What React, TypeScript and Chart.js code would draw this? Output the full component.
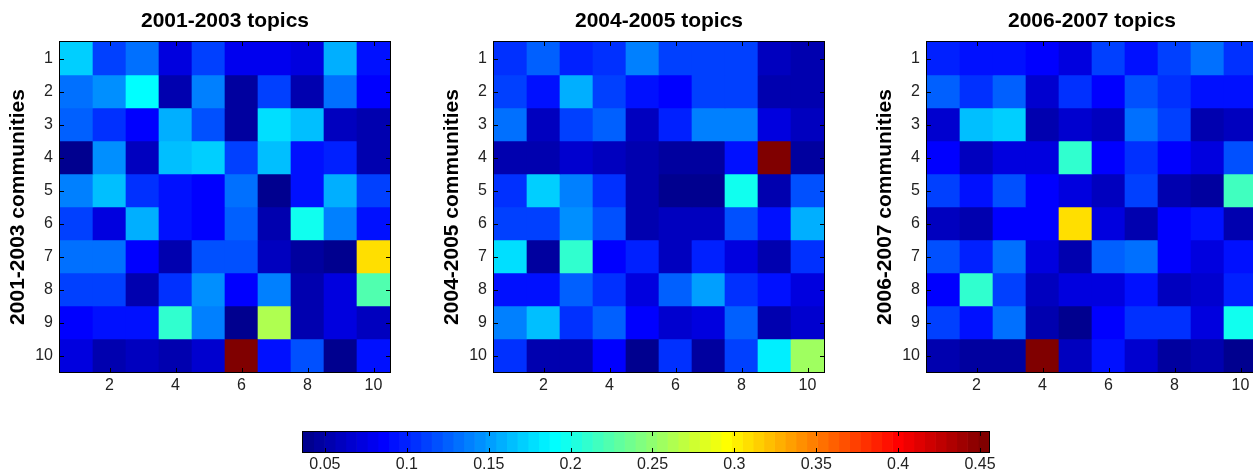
import React, { useEffect, useRef } from 'react';
import { Chart, registerables } from 'chart.js';

Chart.register(...registerables);

const FONT = "'Liberation Sans', Arial, Helvetica, sans-serif";

// ---- data ----
const COL_LABELS = ['1', '2', '3', '4', '5', '6', '7', '8', '9', '10'];
const ROWS = [1, 2, 3, 4, 5, 6, 7, 8, 9, 10];
const X_TICKS = [2, 4, 6, 8, 10];
const Y_TICKS = [1, 2, 3, 4, 5, 6, 7, 8, 9, 10];

const TITLES = ['2001-2003 topics', '2004-2005 topics', '2006-2007 topics'];
const Y_TITLES = ['2001-2003 communities', '2004-2005 communities', '2006-2007 communities'];

const VALUES_2001_2003 = [
  [0.17, 0.115, 0.13, 0.07, 0.115, 0.08, 0.08, 0.075, 0.155, 0.09],
  [0.13, 0.143, 0.19, 0.055, 0.135, 0.045, 0.11, 0.055, 0.13, 0.083],
  [0.125, 0.105, 0.087, 0.16, 0.12, 0.045, 0.18, 0.163, 0.06, 0.055],
  [0.038, 0.143, 0.06, 0.162, 0.173, 0.11, 0.165, 0.095, 0.1, 0.055],
  [0.135, 0.167, 0.105, 0.09, 0.087, 0.13, 0.04, 0.095, 0.155, 0.115],
  [0.115, 0.07, 0.155, 0.09, 0.087, 0.123, 0.05, 0.195, 0.135, 0.09],
  [0.13, 0.13, 0.083, 0.05, 0.12, 0.12, 0.06, 0.045, 0.04, 0.31],
  [0.115, 0.11, 0.05, 0.105, 0.143, 0.087, 0.135, 0.055, 0.07, 0.22],
  [0.087, 0.095, 0.095, 0.21, 0.135, 0.04, 0.265, 0.05, 0.075, 0.06],
  [0.075, 0.055, 0.06, 0.055, 0.065, 0.455, 0.09, 0.12, 0.04, 0.095],
];

const VALUES_2004_2005 = [
  [0.105, 0.125, 0.1, 0.105, 0.135, 0.11, 0.11, 0.11, 0.06, 0.055],
  [0.115, 0.095, 0.155, 0.115, 0.09, 0.087, 0.115, 0.115, 0.055, 0.055],
  [0.13, 0.06, 0.115, 0.125, 0.06, 0.1, 0.135, 0.135, 0.075, 0.06],
  [0.05, 0.055, 0.065, 0.06, 0.05, 0.045, 0.045, 0.09, 0.455, 0.045],
  [0.105, 0.17, 0.135, 0.105, 0.05, 0.04, 0.04, 0.2, 0.05, 0.12],
  [0.11, 0.11, 0.143, 0.12, 0.05, 0.06, 0.06, 0.12, 0.09, 0.155],
  [0.18, 0.045, 0.21, 0.087, 0.1, 0.06, 0.1, 0.075, 0.05, 0.105],
  [0.095, 0.09, 0.125, 0.105, 0.075, 0.125, 0.15, 0.105, 0.095, 0.07],
  [0.135, 0.162, 0.105, 0.125, 0.087, 0.065, 0.075, 0.125, 0.055, 0.065],
  [0.105, 0.055, 0.055, 0.087, 0.04, 0.105, 0.045, 0.11, 0.185, 0.255],
];

const VALUES_2006_2007 = [
  [0.1, 0.09, 0.09, 0.087, 0.07, 0.11, 0.09, 0.11, 0.13, 0.105],
  [0.125, 0.105, 0.125, 0.065, 0.105, 0.087, 0.12, 0.105, 0.09, 0.09],
  [0.065, 0.163, 0.17, 0.055, 0.065, 0.06, 0.13, 0.115, 0.055, 0.06],
  [0.087, 0.06, 0.075, 0.07, 0.21, 0.087, 0.105, 0.083, 0.07, 0.12],
  [0.11, 0.095, 0.12, 0.083, 0.075, 0.06, 0.11, 0.055, 0.045, 0.215],
  [0.06, 0.05, 0.087, 0.087, 0.31, 0.07, 0.055, 0.087, 0.09, 0.05],
  [0.12, 0.1, 0.13, 0.07, 0.055, 0.125, 0.13, 0.087, 0.07, 0.09],
  [0.087, 0.21, 0.115, 0.06, 0.07, 0.075, 0.09, 0.06, 0.065, 0.1],
  [0.11, 0.09, 0.13, 0.055, 0.038, 0.083, 0.105, 0.105, 0.07, 0.2],
  [0.055, 0.045, 0.045, 0.455, 0.06, 0.095, 0.065, 0.045, 0.05, 0.04],
];

const CB_TICKS = [0.05, 0.1, 0.15, 0.2, 0.25, 0.3, 0.35, 0.4, 0.45];
const CB_TICK_LABELS = ['0.05', '0.1', '0.15', '0.2', '0.25', '0.3', '0.35', '0.4', '0.45'];
const CMIN = 0.0366;
const CMAX = 0.4555;
const CB_LEVELS = 64;

// ---- MATLAB jet(64) colormap ----
function jet64(j: number): string {
  const k = j + 1;
  const u = (i: number) => {
    if (i < 1 || i > 47) return 0;
    if (i <= 16) return i / 16;
    if (i <= 31) return 1;
    return (48 - i) / 16;
  };
  const r = u(k - 24), g = u(k - 8), b = u(k + 8);
  return `rgb(${Math.round(r * 255)},${Math.round(g * 255)},${Math.round(b * 255)})`;
}
function colorFor(v: number): string {
  const j = Math.min(CB_LEVELS - 1, Math.max(0, Math.floor(((v - CMIN) / (CMAX - CMIN)) * CB_LEVELS)));
  return jet64(j);
}

const TICK_COLOR = '#222';

const heatFramePlugin = {
  id: 'heatFrame',
  afterDraw(chart: any) {
    const { ctx, chartArea } = chart;
    const { left, top, right, bottom } = chartArea;
    const xs = chart.scales.x, ys = chart.scales.y;
    ctx.save();
    ctx.strokeStyle = '#000';
    ctx.lineWidth = 1;
    ctx.strokeRect(left - 0.5, top - 0.5, right - left + 1, bottom - top + 1);
    ctx.beginPath();
    const L = 4;
    X_TICKS.forEach((t) => {
      const px = Math.round(xs.getPixelForValue(t - 1)) + 0.5;
      ctx.moveTo(px, bottom); ctx.lineTo(px, bottom - L);
      ctx.moveTo(px, top); ctx.lineTo(px, top + L);
    });
    Y_TICKS.forEach((t) => {
      const py = Math.round(ys.getPixelForValue(t)) + 0.5;
      ctx.moveTo(left, py); ctx.lineTo(left + L, py);
      ctx.moveTo(right, py); ctx.lineTo(right - L, py);
    });
    ctx.stroke();
    ctx.restore();
  },
};

const cbFramePlugin = {
  id: 'cbFrame',
  afterDraw(chart: any) {
    const { ctx, chartArea } = chart;
    const { left, top, right, bottom } = chartArea;
    const xs = chart.scales.x;
    ctx.save();
    ctx.strokeStyle = '#000';
    ctx.lineWidth = 1;
    ctx.strokeRect(left - 0.5, top - 0.5, right - left + 1, bottom - top + 1);
    ctx.beginPath();
    const L = 4;
    CB_TICKS.forEach((t) => {
      const px = Math.round(xs.getPixelForValue(t)) + 0.5;
      ctx.moveTo(px, bottom); ctx.lineTo(px, bottom - L);
      ctx.moveTo(px, top); ctx.lineTo(px, top + L);
    });
    ctx.stroke();
    ctx.restore();
  },
};

function Heatmap({ left, title, yTitle, values }: { left: number; title: string; yTitle: string; values: number[][] }) {
  const ref = useRef<HTMLCanvasElement | null>(null);
  useEffect(() => {
    if (!ref.current) return;
    const chart = new Chart(ref.current, {
      type: 'bar',
      data: {
        labels: COL_LABELS,
        datasets: values.map((row, ri) => ({
          data: row.map(() => [ROWS[ri] - 0.5, ROWS[ri] + 0.5]),
          backgroundColor: row.map(colorFor),
          borderWidth: 0,
          grouped: false,
          barPercentage: 1,
          categoryPercentage: 1,
          xAxisID: 'x',
          yAxisID: 'y',
        })),
      } as any,
      options: {
        responsive: false,
        animation: false,
        devicePixelRatio: 1,
        events: [],
        layout: { padding: { left: 0, right: 30, top: 0, bottom: 0 } },
        plugins: {
          legend: { display: false },
          tooltip: { enabled: false },
          title: { display: false },
        },
        scales: {
          x: {
            type: 'category',
            position: 'bottom',
            offset: true,
            grid: { display: false, drawTicks: false },
            border: { display: false },
            ticks: {
              autoSkip: false,
              maxRotation: 0,
              color: TICK_COLOR,
              font: { family: FONT, size: 16, lineHeight: 1 },
              padding: 6,
              callback: (_v: any, idx: number) => (X_TICKS.includes(idx + 1) ? COL_LABELS[idx] : ''),
            },
            afterFit: (s: any) => { s.height = 28; },
          },
          xTop: {
            type: 'category',
            position: 'top',
            offset: true,
            grid: { display: false, drawTicks: false },
            border: { display: false },
            ticks: { display: false },
            title: {
              display: true,
              text: title,
              color: '#000',
              font: { family: FONT, size: 21, weight: 'bold', lineHeight: 1 },
              padding: { top: 11, bottom: 10 },
            },
            afterFit: (s: any) => { s.height = 42; },
          },
          y: {
            type: 'linear',
            min: 0.5,
            max: 10.5,
            reverse: true,
            grid: { display: false, drawTicks: false },
            border: { display: false },
            afterBuildTicks: (s: any) => { s.ticks = Y_TICKS.map((v) => ({ value: v })); },
            ticks: {
              color: TICK_COLOR,
              font: { family: FONT, size: 16, lineHeight: 1 },
              padding: 7,
              callback: (v: any) => String(v),
            },
            title: {
              display: true,
              text: yTitle,
              color: '#000',
              font: { family: FONT, size: 21, weight: 'bold', lineHeight: 1 },
              padding: { top: 8, bottom: 0 },
            },
            afterFit: (s: any) => { s.width = 60; },
          },
        },
      } as any,
      plugins: [heatFramePlugin],
    });
    return () => chart.destroy();
  }, []);
  return (
    <canvas
      ref={ref}
      width={420}
      height={400}
      style={{ position: 'absolute', left, top: 0, width: 420, height: 400 }}
    />
  );
}

function ColorBar() {
  const ref = useRef<HTMLCanvasElement | null>(null);
  useEffect(() => {
    if (!ref.current) return;
    const step = (CMAX - CMIN) / CB_LEVELS;
    const datasets = Array.from({ length: CB_LEVELS }, (_, j) => ({
      data: [[CMIN + j * step, CMIN + (j + 1) * step]],
      backgroundColor: jet64(j),
      borderWidth: 0,
      grouped: false,
      barPercentage: 1,
      categoryPercentage: 1,
    }));
    const chart = new Chart(ref.current, {
      type: 'bar',
      data: { labels: ['cb'], datasets } as any,
      options: {
        indexAxis: 'y',
        responsive: false,
        animation: false,
        devicePixelRatio: 1,
        events: [],
        layout: { padding: { left: 33, right: 41, top: 12, bottom: 0 } },
        plugins: { legend: { display: false }, tooltip: { enabled: false }, title: { display: false } },
        scales: {
          y: { type: 'category', display: false, offset: true },
          x: {
            type: 'linear',
            min: CMIN,
            max: CMAX,
            grid: { display: false, drawTicks: false },
            border: { display: false },
            afterBuildTicks: (s: any) => { s.ticks = CB_TICKS.map((v) => ({ value: v })); },
            ticks: {
              color: TICK_COLOR,
              font: { family: FONT, size: 16, lineHeight: 1 },
              padding: 5,
              autoSkip: false,
              maxRotation: 0,
              callback: (_v: any, idx: number) => CB_TICK_LABELS[idx],
            },
            afterFit: (s: any) => { s.height = 20; },
          },
        },
      } as any,
      plugins: [cbFramePlugin],
    });
    return () => chart.destroy();
  }, []);
  return (
    <canvas
      ref={ref}
      width={760}
      height={52}
      style={{ position: 'absolute', left: 270, top: 420, width: 760, height: 52 }}
    />
  );
}

export default function App() {
  return (
    <div
      style={{
        position: 'absolute',
        left: 0,
        top: 0,
        width: 1253,
        height: 472,
        overflow: 'hidden',
        background: '#fff',
      }}
    >
      <Heatmap left={0} title={TITLES[0]} yTitle={Y_TITLES[0]} values={VALUES_2001_2003} />
      <Heatmap left={434} title={TITLES[1]} yTitle={Y_TITLES[1]} values={VALUES_2004_2005} />
      <Heatmap left={867} title={TITLES[2]} yTitle={Y_TITLES[2]} values={VALUES_2006_2007} />
      <ColorBar />
    </div>
  );
}
